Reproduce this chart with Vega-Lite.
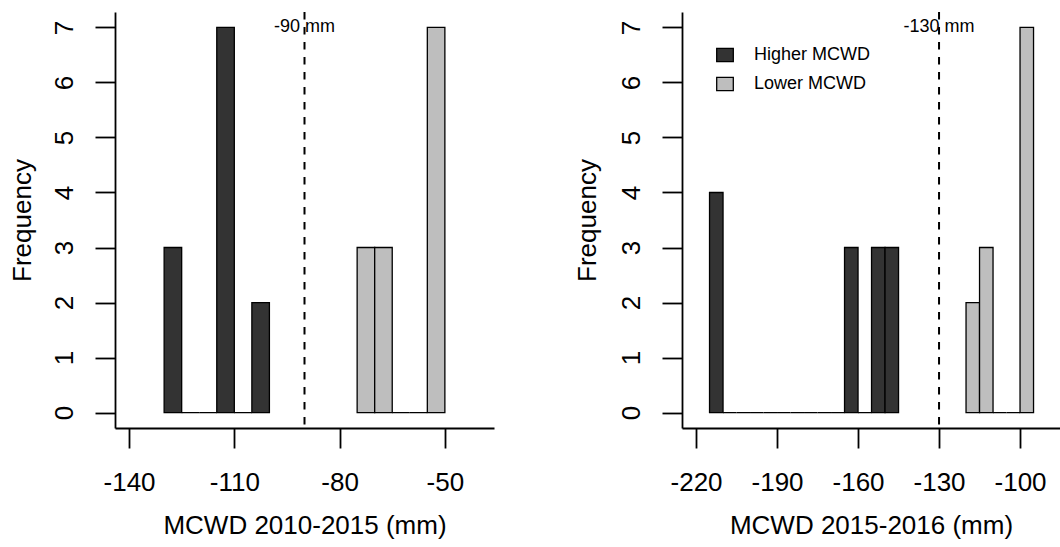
{
  "$schema": "https://vega.github.io/schema/vega-lite/v6.json",
  "autosize": {"type": "none"},
  "padding": {"left": 115, "top": 12, "right": 945, "bottom": 535},
  "background": "white",
  "datasets": {
    "bars1": [
      {"group": "Higher MCWD", "start": -130, "end": -125, "count": 3},
      {"group": "Higher MCWD", "start": -125, "end": -120, "count": 0},
      {"group": "Higher MCWD", "start": -120, "end": -115, "count": 0},
      {"group": "Higher MCWD", "start": -115, "end": -110, "count": 7},
      {"group": "Higher MCWD", "start": -110, "end": -105, "count": 0},
      {"group": "Higher MCWD", "start": -105, "end": -100, "count": 2},
      {"group": "Lower MCWD", "start": -75, "end": -70, "count": 3},
      {"group": "Lower MCWD", "start": -70, "end": -65, "count": 3},
      {"group": "Lower MCWD", "start": -65, "end": -60, "count": 0},
      {"group": "Lower MCWD", "start": -60, "end": -55, "count": 0},
      {"group": "Lower MCWD", "start": -55, "end": -50, "count": 7}
    ],
    "bars2": [
      {"group": "Higher MCWD", "start": -215, "end": -210, "count": 4},
      {"group": "Higher MCWD", "start": -210, "end": -205, "count": 0},
      {"group": "Higher MCWD", "start": -205, "end": -200, "count": 0},
      {"group": "Higher MCWD", "start": -200, "end": -195, "count": 0},
      {"group": "Higher MCWD", "start": -195, "end": -190, "count": 0},
      {"group": "Higher MCWD", "start": -190, "end": -185, "count": 0},
      {"group": "Higher MCWD", "start": -185, "end": -180, "count": 0},
      {"group": "Higher MCWD", "start": -180, "end": -175, "count": 0},
      {"group": "Higher MCWD", "start": -175, "end": -170, "count": 0},
      {"group": "Higher MCWD", "start": -170, "end": -165, "count": 0},
      {"group": "Higher MCWD", "start": -165, "end": -160, "count": 3},
      {"group": "Higher MCWD", "start": -160, "end": -155, "count": 0},
      {"group": "Higher MCWD", "start": -155, "end": -150, "count": 3},
      {"group": "Higher MCWD", "start": -150, "end": -145, "count": 3},
      {"group": "Lower MCWD", "start": -120, "end": -115, "count": 2},
      {"group": "Lower MCWD", "start": -115, "end": -110, "count": 3},
      {"group": "Lower MCWD", "start": -110, "end": -105, "count": 0},
      {"group": "Lower MCWD", "start": -105, "end": -100, "count": 0},
      {"group": "Lower MCWD", "start": -100, "end": -95, "count": 7}
    ],
    "marks1": [{"x": -90, "y": 7, "label": "-90 mm"}],
    "marks2": [{"x": -130, "y": 7, "label": "-130 mm"}]
  },
  "hconcat": [
    {
      "width": 379,
      "height": 416,
      "layer": [
        {
          "data": {"name": "bars1"},
          "mark": {"type": "rect", "stroke": "black", "strokeWidth": 1.3},
          "encoding": {
            "x": {"field": "start", "type": "quantitative", "scale": {"domain": [-144, -36], "nice": false, "zero": false}, "axis": {"values": [-140, -110, -80, -50], "title": "MCWD 2010-2015 (mm)"}},
            "x2": {"field": "end"},
            "y": {"field": "count", "type": "quantitative", "scale": {"domain": [-0.28, 7.28], "nice": false, "zero": false}, "axis": {"values": [0, 1, 2, 3, 4, 5, 6, 7], "title": "Frequency", "titleX": -85}},
            "y2": {"datum": 0},
            "color": {"field": "group", "type": "nominal", "scale": {"domain": ["Higher MCWD", "Lower MCWD"], "range": ["#333333", "#bebebe"]}, "legend": null}
          }
        },
        {
          "data": {"name": "marks1"},
          "mark": {"type": "rule", "strokeDash": [7.5, 7.5], "strokeWidth": 2, "color": "black"},
          "encoding": {"x": {"field": "x", "type": "quantitative"}}
        },
        {
          "data": {"name": "marks1"},
          "mark": {"type": "text", "fontSize": 18, "color": "black", "font": "Liberation Sans"},
          "encoding": {"x": {"field": "x", "type": "quantitative"}, "y": {"field": "y", "type": "quantitative"}, "text": {"field": "label"}}
        }
      ]
    },
    {
      "width": 378,
      "height": 416,
      "layer": [
        {
          "data": {"name": "bars2"},
          "mark": {"type": "rect", "stroke": "black", "strokeWidth": 1.3},
          "encoding": {
            "x": {"field": "start", "type": "quantitative", "scale": {"domain": [-225.2, -85.2], "nice": false, "zero": false}, "axis": {"values": [-220, -190, -160, -130, -100], "title": "MCWD 2015-2016 (mm)"}},
            "x2": {"field": "end"},
            "y": {"field": "count", "type": "quantitative", "scale": {"domain": [-0.28, 7.28], "nice": false, "zero": false}, "axis": {"values": [0, 1, 2, 3, 4, 5, 6, 7], "title": "Frequency", "titleX": -86.5}},
            "y2": {"datum": 0},
            "color": {"field": "group", "type": "nominal", "scale": {"domain": ["Higher MCWD", "Lower MCWD"], "range": ["#333333", "#bebebe"]},
              "legend": {"orient": "none", "legendX": 34, "legendY": 34, "title": null, "symbolType": "M-1,-0.8H1V0.8H-1Z", "symbolSize": 276, "symbolStrokeColor": "black", "symbolStrokeWidth": 1.3, "symbolOpacity": 1, "labelFontSize": 18, "labelColor": "black", "labelFont": "Liberation Sans", "labelOffset": 20, "rowPadding": 9, "padding": 0}}
          }
        },
        {
          "data": {"name": "marks2"},
          "mark": {"type": "rule", "strokeDash": [7.5, 7.5], "strokeWidth": 2, "color": "black"},
          "encoding": {"x": {"field": "x", "type": "quantitative"}}
        },
        {
          "data": {"name": "marks2"},
          "mark": {"type": "text", "fontSize": 18, "color": "black", "font": "Liberation Sans"},
          "encoding": {"x": {"field": "x", "type": "quantitative"}, "y": {"field": "y", "type": "quantitative"}, "text": {"field": "label"}}
        }
      ]
    }
  ],
  "spacing": 188,
  "bounds": "flush",
  "resolve": {"scale": {"color": "independent"}, "legend": {"color": "independent"}},
  "config": {
    "font": "Liberation Sans",
    "view": {"stroke": null},
    "axis": {
      "grid": false,
      "domainColor": "black",
      "domainWidth": 1.8,
      "tickColor": "black",
      "tickWidth": 1.8,
      "tickSize": 20,
      "labelFontSize": 26,
      "labelColor": "black",
      "labelFont": "Liberation Sans",
      "titleFontSize": 26,
      "titleFontWeight": "normal",
      "titleColor": "black",
      "titleFont": "Liberation Sans",
      "labelOverlap": false,
      "labelFlush": false,
      "labelExpr": "'' + datum.value"
    },
    "axisX": {"labelPadding": 21, "titleBaseline": "alphabetic", "titleY": 105, "titleAlign": "center"},
    "axisY": {"labelAngle": -90, "labelAlign": "center", "labelBaseline": "bottom", "labelPadding": 18, "titleAngle": -90, "titleBaseline": "alphabetic", "titleY": 208, "titleAlign": "center"}
  }
}
